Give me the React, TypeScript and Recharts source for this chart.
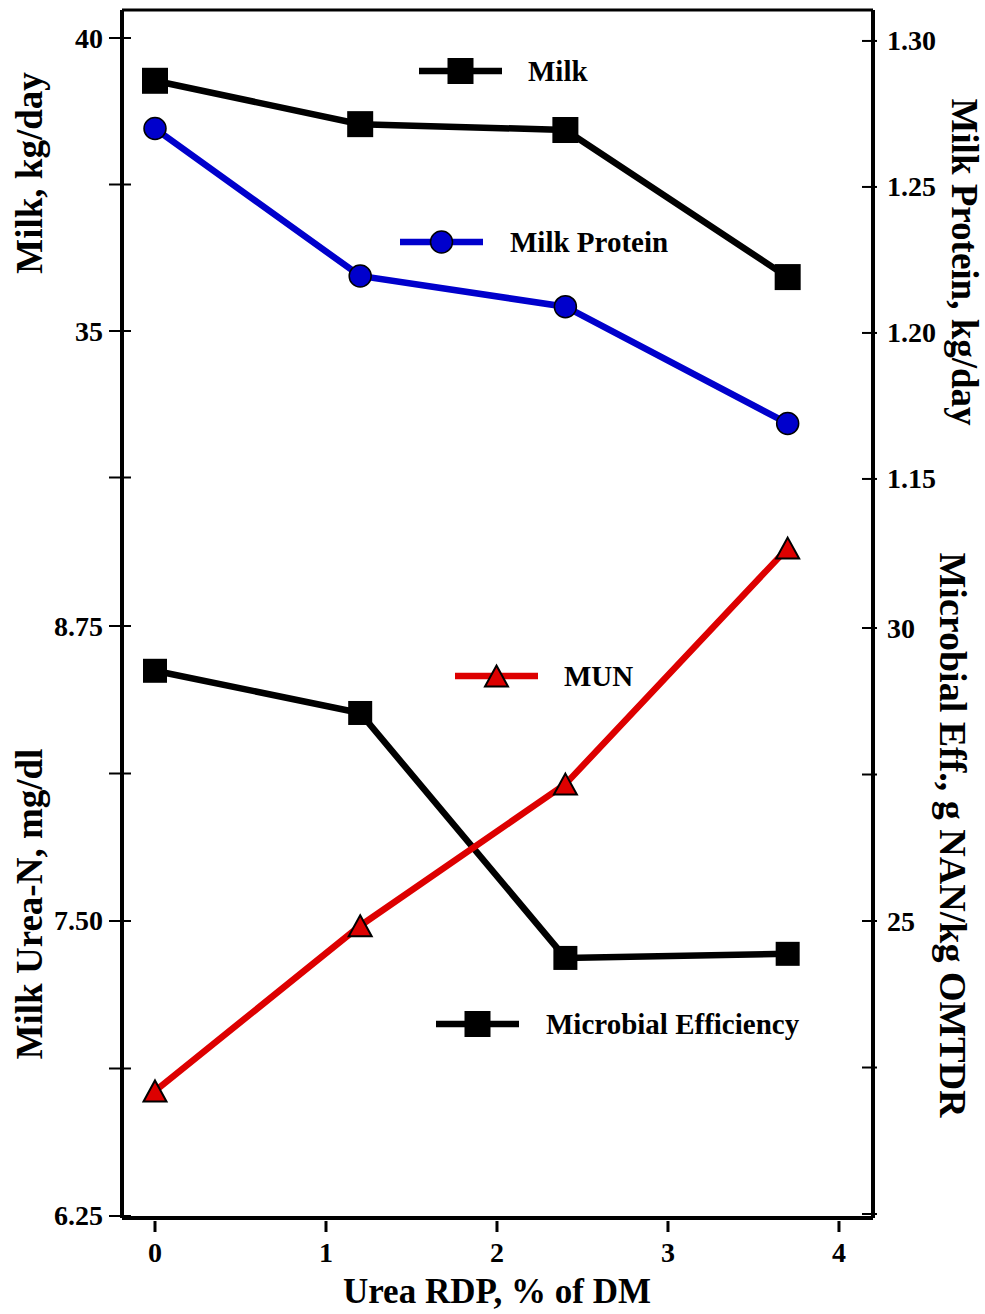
import React from 'react';
import { LineChart, Line, XAxis, YAxis, ReferenceLine } from 'recharts';

// ---- data ----
const ureaRdp = [0, 1.2, 2.4, 3.7];
const milkYield = [39.27, 38.53, 38.43, 35.92];
const milkProtein = [1.27, 1.2195, 1.209, 1.169];
const milkUreaN = [6.78, 7.48, 8.08, 9.08];
const microbialEff = [29.27, 28.55, 24.37, 24.44];

const xTicks = [0, 1, 2, 3, 4];
const xTickLabels = ['0', '1', '2', '3', '4'];
const milkTicks = [32.5, 35, 37.5, 40];
const milkTickLabels = ['', '35', '', '40'];
const proteinTicks = [1.15, 1.2, 1.25, 1.3];
const proteinTickLabels = ['1.15', '1.20', '1.25', '1.30'];
const munTicks = [6.25, 6.875, 7.5, 8.125, 8.75];
const munTickLabels = ['6.25', '', '7.50', '', '8.75'];
const microbialTicks = [20, 22.5, 25, 27.5, 30];
const microbialTickLabels = ['', '', '25', '', '30'];

const data = ureaRdp.map((u, i) => ({
  urea: u,
  milk: milkYield[i],
  protein: milkProtein[i],
  mun: milkUreaN[i],
  microbial: microbialEff[i],
}));

// ---- layout / style ----
const W = 985;
const H = 1314;
const FONT = '"Liberation Serif", "Times New Roman", Times, serif';
const X_DOMAIN = [-0.193, 4.199];
const MILK_DOMAIN = [19.863, 40.478];
const PROTEIN_DOMAIN = [0.8969, 1.3106];
const MUN_DOMAIN = [6.2415, 11.3602];
const MICRO_DOMAIN = [19.932, 40.546];
const BLUE = '#0000cc';
const RED = '#dd0000';
const LINE_W = 6.5;

const labelFor = (ticks: number[], labels: string[], v: number) => {
  const i = ticks.findIndex((t) => Math.abs(t - v) < 1e-6);
  return i >= 0 ? labels[i] : '';
};

const makeLeftTick = (ticks: number[], labels: string[]) => (props: any) => {
  const { x, y, payload } = props;
  const label = labelFor(ticks, labels, payload.value);
  return (
    <g>
      <line x1={x - 13} x2={x + 9} y1={y} y2={y} stroke="#000" strokeWidth={2} />
      {label ? (
        <text x={x - 19} y={y + 9.5} textAnchor="end" fontSize={28} fontWeight="bold" fontFamily={FONT} fill="#000">
          {label}
        </text>
      ) : null}
    </g>
  );
};

const makeRightTick = (ticks: number[], labels: string[]) => (props: any) => {
  const { x, y, payload } = props;
  const label = labelFor(ticks, labels, payload.value);
  return (
    <g>
      <line x1={x - 11} x2={x + 4} y1={y} y2={y} stroke="#000" strokeWidth={2} />
      {label ? (
        <text x={x + 14} y={y + 9.5} textAnchor="start" fontSize={28} fontWeight="bold" fontFamily={FONT} fill="#000">
          {label}
        </text>
      ) : null}
    </g>
  );
};

const XTick = (props: any) => {
  const { x, y, payload } = props;
  const label = labelFor(xTicks, xTickLabels, payload.value);
  return (
    <g>
      <line x1={x} x2={x} y1={y + 3} y2={y + 14} stroke="#000" strokeWidth={3} />
      <text x={x} y={y + 44} textAnchor="middle" fontSize={28} fontWeight="bold" fontFamily={FONT} fill="#000">
        {label}
      </text>
    </g>
  );
};

const squareDot = (size: number) => (props: any) => {
  const { cx, cy, index } = props;
  if (cx == null || cy == null) return <g key={`sq-${index}`} />;
  return <rect key={`sq-${index}`} x={cx - size / 2} y={cy - size / 2} width={size} height={size} fill="#000" />;
};

const circleDot = (props: any) => {
  const { cx, cy, index } = props;
  if (cx == null || cy == null) return <g key={`ci-${index}`} />;
  return <circle key={`ci-${index}`} cx={cx} cy={cy} r={11} fill={BLUE} stroke="#000" strokeWidth={1.5} />;
};

const triPoints = (cx: number, cy: number) =>
  `${cx},${cy - 10.5} ${cx + 11.5},${cy + 10.5} ${cx - 11.5},${cy + 10.5}`;

const triangleDot = (props: any) => {
  const { cx, cy, index } = props;
  if (cx == null || cy == null) return <g key={`tr-${index}`} />;
  return <polygon key={`tr-${index}`} points={triPoints(cx, cy)} fill={RED} stroke="#000" strokeWidth={2} />;
};

const axisLineStyle = { stroke: '#000', strokeWidth: 4 };

const LegendItem = ({ x1, x2, y, color, marker, label, tx }: any) => {
  const cx = (x1 + x2) / 2;
  return (
    <g>
      <line x1={x1} x2={x2} y1={y} y2={y} stroke={color} strokeWidth={LINE_W} />
      {marker === 'square' && <rect x={cx - 13} y={y - 13} width={26} height={26} fill="#000" />}
      {marker === 'circle' && <circle cx={cx} cy={y} r={11} fill={BLUE} stroke="#000" strokeWidth={1.5} />}
      {marker === 'triangle' && <polygon points={triPoints(cx, y)} fill={RED} stroke="#000" strokeWidth={2} />}
      <text x={tx} y={y + 10} fontSize={29} fontWeight="bold" fontFamily={FONT} fill="#000">
        {label}
      </text>
    </g>
  );
};

export default function App() {
  return (
    <div style={{ position: 'absolute', left: 0, top: 0, width: W, height: H, background: '#fff', overflow: 'hidden' }}>
      {/* Top panel: Milk & Milk Protein */}
      <div style={{ position: 'absolute', left: 0, top: 0 }}>
        <LineChart width={W} height={H} data={data} margin={{ top: 10, right: 32, bottom: 96, left: 62 }}>
          <XAxis dataKey="urea" type="number" domain={X_DOMAIN} allowDataOverflow hide ticks={xTicks} />
          <YAxis
            yAxisId="milk"
            orientation="left"
            type="number"
            width={60}
            domain={MILK_DOMAIN}
            allowDataOverflow
            ticks={milkTicks}
            interval={0}
            tickSize={0}
            tickMargin={0}
            tickLine={false}
            axisLine={axisLineStyle}
            tick={makeLeftTick(milkTicks, milkTickLabels)}
          />
          <YAxis
            yAxisId="protein"
            orientation="right"
            type="number"
            width={80}
            domain={PROTEIN_DOMAIN}
            allowDataOverflow
            ticks={proteinTicks}
            interval={0}
            tickSize={0}
            tickMargin={0}
            tickLine={false}
            axisLine={axisLineStyle}
            tick={makeRightTick(proteinTicks, proteinTickLabels)}
          />
          <ReferenceLine yAxisId="milk" y={MILK_DOMAIN[1]} stroke="#000" strokeWidth={3} />
          <Line
            yAxisId="protein"
            dataKey="protein"
            type="linear"
            stroke={BLUE}
            strokeWidth={LINE_W}
            dot={circleDot}
            activeDot={false}
            isAnimationActive={false}
          />
          <Line
            yAxisId="milk"
            dataKey="milk"
            type="linear"
            stroke="#000"
            strokeWidth={LINE_W}
            dot={squareDot(26)}
            activeDot={false}
            isAnimationActive={false}
          />
        </LineChart>
      </div>

      {/* Bottom panel: MUN & Microbial efficiency */}
      <div style={{ position: 'absolute', left: 0, top: 0 }}>
        <LineChart width={W} height={H} data={data} margin={{ top: 10, right: 32, bottom: 36, left: 62 }}>
          <XAxis
            dataKey="urea"
            type="number"
            domain={X_DOMAIN}
            allowDataOverflow
            ticks={xTicks}
            interval={0}
            height={60}
            tickSize={0}
            tickMargin={0}
            tickLine={false}
            axisLine={axisLineStyle}
            tick={XTick}
          />
          <YAxis
            yAxisId="mun"
            orientation="left"
            type="number"
            width={60}
            domain={MUN_DOMAIN}
            allowDataOverflow
            ticks={munTicks}
            interval={0}
            tickSize={0}
            tickMargin={0}
            tickLine={false}
            axisLine={axisLineStyle}
            tick={makeLeftTick(munTicks, munTickLabels)}
          />
          <YAxis
            yAxisId="micro"
            orientation="right"
            type="number"
            width={80}
            domain={MICRO_DOMAIN}
            allowDataOverflow
            ticks={microbialTicks}
            interval={0}
            tickSize={0}
            tickMargin={0}
            tickLine={false}
            axisLine={axisLineStyle}
            tick={makeRightTick(microbialTicks, microbialTickLabels)}
          />
          <Line
            yAxisId="micro"
            dataKey="microbial"
            type="linear"
            stroke="#000"
            strokeWidth={LINE_W}
            dot={squareDot(24)}
            activeDot={false}
            isAnimationActive={false}
          />
          <Line
            yAxisId="mun"
            dataKey="mun"
            type="linear"
            stroke={RED}
            strokeWidth={LINE_W}
            dot={triangleDot}
            activeDot={false}
            isAnimationActive={false}
          />
        </LineChart>
      </div>

      {/* Legends and axis titles */}
      <svg width={W} height={H} style={{ position: 'absolute', left: 0, top: 0, pointerEvents: 'none' }}>
        <LegendItem x1={419} x2={502} y={71} color="#000" marker="square" label="Milk" tx={528} />
        <LegendItem x1={400} x2={483} y={242} color={BLUE} marker="circle" label="Milk Protein" tx={510} />
        <LegendItem x1={455} x2={538} y={676} color={RED} marker="triangle" label="MUN" tx={564} />
        <LegendItem x1={436} x2={519} y={1024} color="#000" marker="square" label="Microbial Efficiency" tx={546} />

        <text transform="translate(42,173) rotate(-90)" textAnchor="middle" fontSize={37} fontWeight="bold" fontFamily={FONT} fill="#000">
          Milk, kg/day
        </text>
        <text transform="translate(42,904) rotate(-90)" textAnchor="middle" fontSize={37} fontWeight="bold" fontFamily={FONT} fill="#000">
          Milk Urea-N, mg/dl
        </text>
        <text transform="translate(952,262) rotate(90)" textAnchor="middle" fontSize={37} fontWeight="bold" fontFamily={FONT} fill="#000">
          Milk Protein, kg/day
        </text>
        <text transform="translate(940,835) rotate(90)" textAnchor="middle" fontSize={38} fontWeight="bold" fontFamily={FONT} fill="#000">
          Microbial Eff., g NAN/kg OMTDR
        </text>
        <text x={497} y={1303} textAnchor="middle" fontSize={35} fontWeight="bold" fontFamily={FONT} fill="#000">
          Urea RDP, % of DM
        </text>
      </svg>
    </div>
  );
}
